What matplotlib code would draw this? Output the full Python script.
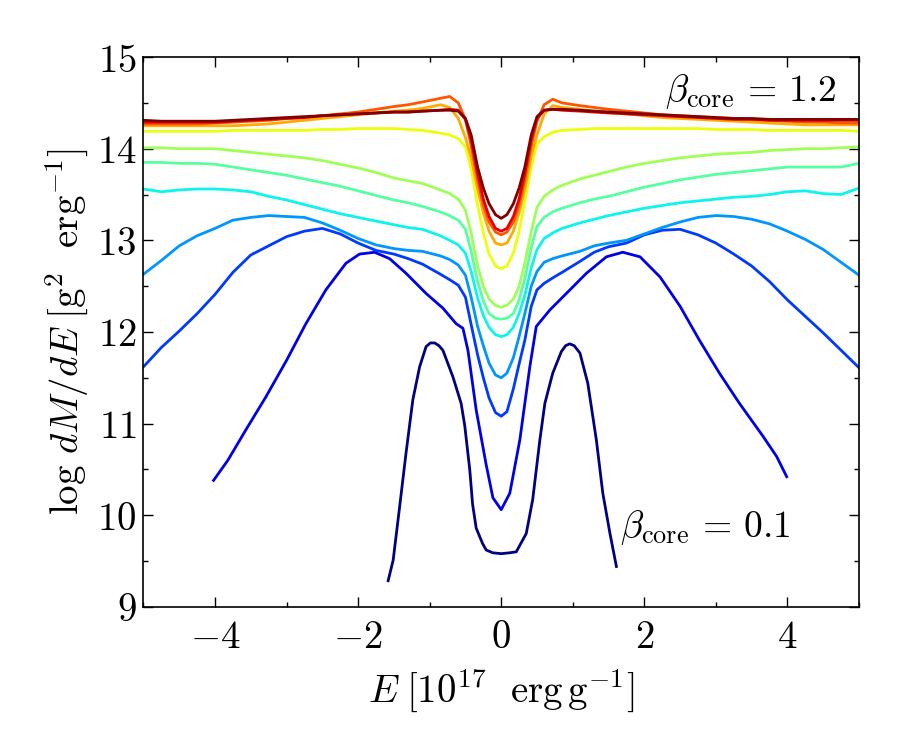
import numpy as np
import matplotlib
matplotlib.use("Agg")
import matplotlib.pyplot as plt
from matplotlib.ticker import MultipleLocator, FuncFormatter

plt.rcParams['mathtext.fontset'] = 'cm'
plt.rcParams['font.family'] = 'serif'
plt.rcParams['font.size'] = 28

# energy grid shared by the beta = 0.3 ... 1.2 curves
E_grid = [-5, -4.75, -4.5, -4.25, -4, -3.75, -3.5, -3.25, -3, -2.75, -2.5, -2.25, -2, -1.75, -1.5,
          -1.3, -1.1, -0.85, -0.72, -0.6, -0.5, -0.42, -0.33, -0.25, -0.17, -0.08, 0,
          0.08, 0.17, 0.25, 0.33, 0.42, 0.5, 0.6, 0.72, 0.85, 1.1, 1.3, 1.5, 1.75, 2, 2.25, 2.5,
          2.75, 3, 3.25, 3.5, 3.75, 4, 4.25, 4.5, 4.75, 5]

dmde_03 = [11.62, 11.83, 12.01, 12.20, 12.41, 12.65, 12.84, 12.94, 13.04, 13.10, 13.13, 13.07, 12.97, 12.89, 12.85,
           12.80, 12.74, 12.63, 12.57, 12.51, 12.38, 12.08, 11.75, 11.50, 11.28, 11.12, 11.08,
           11.13, 11.38, 11.65, 11.91, 12.28, 12.46, 12.53, 12.59, 12.65, 12.77, 12.87, 12.93, 12.97, 13.06, 13.11, 13.12,
           13.06, 12.97, 12.85, 12.72, 12.55, 12.35, 12.17, 11.99, 11.80, 11.61]
dmde_04 = [12.63, 12.78, 12.94, 13.05, 13.13, 13.22, 13.25, 13.27, 13.26, 13.25, 13.19, 13.11, 13.02, 12.95, 12.91,
           12.89, 12.88, 12.83, 12.79, 12.73, 12.62, 12.38, 12.06, 11.85, 11.66, 11.53, 11.50,
           11.55, 11.72, 11.95, 12.20, 12.50, 12.66, 12.76, 12.80, 12.83, 12.88, 12.94, 12.97, 13.00, 13.07, 13.14, 13.20,
           13.25, 13.27, 13.26, 13.23, 13.18, 13.10, 13.01, 12.90, 12.76, 12.62]
dmde_05 = [13.56, 13.53, 13.55, 13.56, 13.56, 13.55, 13.53, 13.48, 13.44, 13.39, 13.34, 13.29, 13.25, 13.21, 13.17,
           13.14, 13.12, 13.05, 13.00, 12.95, 12.86, 12.66, 12.37, 12.18, 12.05, 11.97, 11.95,
           11.97, 12.05, 12.20, 12.40, 12.70, 12.90, 13.02, 13.08, 13.13, 13.19, 13.23, 13.27, 13.31, 13.35, 13.38, 13.41,
           13.43, 13.45, 13.47, 13.48, 13.50, 13.53, 13.54, 13.51, 13.50, 13.57]
dmde_06 = [13.85, 13.85, 13.84, 13.84, 13.83, 13.80, 13.77, 13.74, 13.71, 13.67, 13.63, 13.59, 13.54, 13.49, 13.44,
           13.41, 13.37, 13.31, 13.27, 13.22, 13.12, 12.88, 12.55, 12.34, 12.20, 12.15, 12.14,
           12.15, 12.20, 12.35, 12.58, 12.92, 13.15, 13.25, 13.31, 13.35, 13.41, 13.45, 13.48, 13.53, 13.58, 13.62, 13.66,
           13.69, 13.72, 13.74, 13.76, 13.78, 13.80, 13.80, 13.80, 13.80, 13.84]
dmde_07 = [14.01, 14.01, 14.00, 14.00, 14.00, 13.98, 13.96, 13.94, 13.92, 13.90, 13.87, 13.83, 13.79, 13.74, 13.68,
           13.65, 13.62, 13.55, 13.51, 13.45, 13.33, 13.08, 12.72, 12.50, 12.36, 12.29, 12.27,
           12.29, 12.36, 12.50, 12.75, 13.10, 13.36, 13.48, 13.55, 13.60, 13.67, 13.71, 13.75, 13.80, 13.84, 13.87, 13.90,
           13.92, 13.94, 13.95, 13.96, 13.98, 13.99, 14.00, 14.00, 14.01, 14.02]
dmde_08 = [14.19, 14.19, 14.19, 14.19, 14.19, 14.20, 14.20, 14.20, 14.20, 14.20, 14.21, 14.21, 14.22, 14.22, 14.22,
           14.21, 14.20, 14.17, 14.15, 14.11, 14.02, 13.78, 13.38, 13.08, 12.85, 12.72, 12.69,
           12.72, 12.86, 13.10, 13.42, 13.80, 14.05, 14.13, 14.18, 14.20, 14.21, 14.22, 14.22, 14.22, 14.22, 14.22, 14.22,
           14.22, 14.21, 14.21, 14.21, 14.20, 14.20, 14.20, 14.20, 14.20, 14.19]
dmde_09 = [14.25, 14.25, 14.25, 14.25, 14.25, 14.25, 14.26, 14.27, 14.29, 14.31, 14.33, 14.35, 14.37, 14.39, 14.41,
           14.42, 14.44, 14.48, 14.45, 14.33, 14.12, 13.90, 13.56, 13.30, 13.10, 12.97, 12.95,
           12.97, 13.10, 13.30, 13.56, 13.92, 14.15, 14.38, 14.47, 14.45, 14.43, 14.41, 14.40, 14.38, 14.36, 14.34, 14.33,
           14.32, 14.31, 14.30, 14.29, 14.28, 14.27, 14.26, 14.26, 14.26, 14.26]
dmde_10 = [14.27, 14.27, 14.27, 14.27, 14.28, 14.29, 14.30, 14.31, 14.33, 14.34, 14.36, 14.38, 14.40, 14.43, 14.46,
           14.48, 14.51, 14.55, 14.57, 14.50, 14.32, 14.03, 13.66, 13.38, 13.20, 13.09, 13.06,
           13.09, 13.20, 13.38, 13.66, 14.03, 14.30, 14.48, 14.54, 14.50, 14.47, 14.45, 14.43, 14.41, 14.39, 14.37, 14.36,
           14.35, 14.34, 14.33, 14.32, 14.31, 14.30, 14.29, 14.29, 14.28, 14.28]
dmde_11 = [14.29, 14.29, 14.29, 14.29, 14.29, 14.30, 14.31, 14.32, 14.33, 14.34, 14.36, 14.37, 14.38, 14.39, 14.40,
           14.40, 14.41, 14.42, 14.43, 14.42, 14.32, 14.10, 13.73, 13.45, 13.26, 13.13, 13.10,
           13.13, 13.26, 13.45, 13.73, 14.10, 14.33, 14.42, 14.43, 14.42, 14.41, 14.40, 14.39, 14.38, 14.37, 14.36, 14.35,
           14.34, 14.33, 14.32, 14.32, 14.31, 14.31, 14.31, 14.31, 14.31, 14.31]
dmde_12 = [14.31, 14.30, 14.30, 14.30, 14.30, 14.31, 14.32, 14.33, 14.34, 14.35, 14.36, 14.37, 14.38, 14.39, 14.40,
           14.40, 14.41, 14.42, 14.42, 14.41, 14.33, 14.15, 13.80, 13.57, 13.40, 13.28, 13.24,
           13.28, 13.40, 13.57, 13.80, 14.15, 14.35, 14.42, 14.43, 14.43, 14.42, 14.41, 14.40, 14.39, 14.38, 14.37, 14.36,
           14.35, 14.34, 14.33, 14.33, 14.32, 14.32, 14.32, 14.32, 14.32, 14.32]

# beta = 0.2 curve, limited energy range
E_02 = [-4.02, -3.82, -3.57, -3.29, -3.0, -2.73, -2.45, -2.17, -1.98, -1.77, -1.56, -1.33, -1.05, -0.815,
        -0.63, -0.535, -0.465, -0.35, -0.21, -0.116, 0, 0.12, 0.26, 0.40, 0.49, 0.68, 0.91, 1.19, 1.47,
        1.70, 1.94, 2.22, 2.50, 2.77, 3.05, 3.33, 3.66, 3.85, 3.99]
dmde_02 = [10.38, 10.60, 10.93, 11.29, 11.69, 12.09, 12.46, 12.75, 12.85, 12.87, 12.80, 12.64, 12.42, 12.26,
           12.09, 12.04, 11.80, 11.15, 10.55, 10.19, 10.06, 10.24, 10.82, 11.62, 12.06, 12.24, 12.42, 12.64, 12.82,
           12.87, 12.82, 12.60, 12.28, 11.91, 11.55, 11.22, 10.86, 10.64, 10.42]

# beta = 0.1 curve
E_01 = [-1.58, -1.51, -1.42, -1.33, -1.235, -1.14, -1.05, -0.99, -0.93, -0.87, -0.815, -0.675, -0.56, -0.51,
        -0.44, -0.40, -0.35, -0.26, -0.21, -0.12, 0, 0.12, 0.21, 0.35, 0.44, 0.54, 0.61, 0.72, 0.84, 0.90,
        0.957, 1.02, 1.10, 1.21, 1.33, 1.42, 1.52, 1.61]
dmde_01 = [9.285, 9.51, 10.09, 10.68, 11.26, 11.62, 11.84, 11.88, 11.88, 11.85, 11.80, 11.51, 11.22, 10.98,
           10.50, 10.12, 9.86, 9.69, 9.62, 9.59, 9.58, 9.59, 9.60, 9.80, 10.17, 10.82, 11.22, 11.55, 11.785, 11.85,
           11.87, 11.85, 11.77, 11.44, 10.82, 10.24, 9.80, 9.44]

betas = [0.1, 0.2, 0.3, 0.4, 0.5, 0.6, 0.7, 0.8, 0.9, 1.0, 1.1, 1.2]
curves = [(E_01, dmde_01), (E_02, dmde_02),
          (E_grid, dmde_03), (E_grid, dmde_04), (E_grid, dmde_05), (E_grid, dmde_06),
          (E_grid, dmde_07), (E_grid, dmde_08), (E_grid, dmde_09), (E_grid, dmde_10),
          (E_grid, dmde_11), (E_grid, dmde_12)]

fig = plt.figure(figsize=(9, 7.5), dpi=100)
ax = fig.add_axes([0.1594, 0.1909, 0.795, 0.733])

cmap = plt.get_cmap('jet')
for i, (e, d) in enumerate(curves):
    ax.plot(e, d, color=cmap(i / (len(betas) - 1)), lw=2.0, solid_joinstyle='round')

ax.set_xlim(-5, 5)
ax.set_ylim(9, 15)
ax.xaxis.set_major_locator(MultipleLocator(2))
ax.xaxis.set_minor_locator(MultipleLocator(1))
ax.yaxis.set_major_locator(MultipleLocator(1))
ax.yaxis.set_minor_locator(MultipleLocator(0.5))
fmt = FuncFormatter(lambda v, p: r'$%d$' % round(v))
ax.xaxis.set_major_formatter(fmt)
ax.yaxis.set_major_formatter(fmt)
ax.tick_params(which='both', direction='in', top=True, right=True, width=1.0)
ax.tick_params(which='major', length=7)
ax.tick_params(which='minor', length=3.5)
ax.tick_params(axis='x', which='major', pad=9)
ax.tick_params(axis='y', which='major', pad=5)
for s in ax.spines.values():
    s.set_linewidth(1.2)

ax.set_xlabel(r'$E\;[10^{17}\ \ {\rm erg\,g}^{-1}]$', labelpad=8)
ax.set_ylabel(r'$\log\,dM/dE\;[{\rm g}^{2}\ \ {\rm erg}^{-1}]$', labelpad=4)

ax.text(4.69, 14.62, r'$\beta_{\rm core}\,=\,1.2$', ha='right', va='center', fontsize=27)
ax.text(1.66, 9.87, r'$\beta_{\rm core}\,=\,0.1$', ha='left', va='center', fontsize=27)

fig.savefig('out.png', dpi=100)
